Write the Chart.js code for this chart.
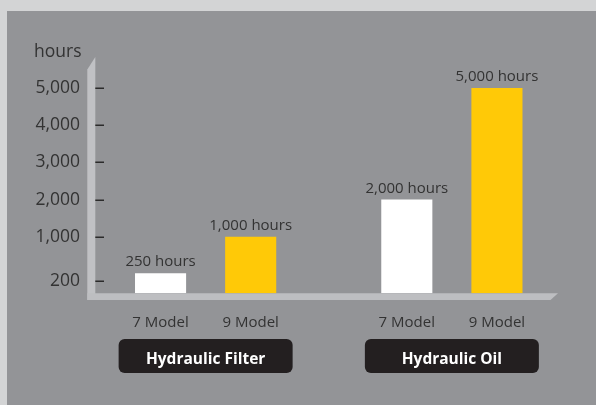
<!DOCTYPE html>
<html>
<head>
<meta charset="utf-8">
<script src="https://cdn.jsdelivr.net/npm/chart.js@4.4.1/dist/chart.umd.min.js"></script>
<style>
  html, body { margin: 0; padding: 0; background: #d3d4d5; }
  canvas { display: block; }
</style>
</head>
<body>
<canvas id="c" width="596" height="405"></canvas>
<script>
// ---- data ----
const categories = ['Hydraulic Filter', 'Hydraulic Oil'];
const seriesNames = ['7 Model', '9 Model'];
const model7Hours = [250, 2000];
const model9Hours = [1000, 5000];
const yTickValues = [200, 1000, 2000, 3000, 4000, 5000];
const yAxisTitle = 'hours';
const valueSuffix = ' hours';

// ---- styles ----
const FONT = '"Open Sans", "Noto Sans", sans-serif';
const TEXT = '#333333';
const WHITE_BAR = '#ffffff';
const YELLOW_BAR = '#ffc907';
const AXIS_FACE = '#c0c1c4';

// Broken (piecewise-linear) value axis, like the original artwork
const knotValues = [0, 200, 250, 1000, 5000];
const knotDecimals = [0, 0.0614, 0.0974, 0.2757, 1];
function interp(x, xs, ys) {
  if (x <= xs[0]) return ys[0] + (x - xs[0]) * (ys[1] - ys[0]) / (xs[1] - xs[0]);
  for (let i = 1; i < xs.length; i++) {
    if (x <= xs[i]) return ys[i - 1] + (x - xs[i - 1]) * (ys[i] - ys[i - 1]) / (xs[i] - xs[i - 1]);
  }
  const n = xs.length - 1;
  return ys[n] + (x - xs[n]) * (ys[n] - ys[n - 1]) / (xs[n] - xs[n - 1]);
}
class BrokenLinearScale extends Chart.LinearScale {
  getPixelForValue(value) {
    return this.getPixelForDecimal(interp(value, knotValues, knotDecimals));
  }
  getValueForPixel(pixel) {
    return interp(this.getDecimalForPixel(pixel), knotDecimals, knotValues);
  }
}
BrokenLinearScale.id = 'brokenLinear';
BrokenLinearScale.defaults = Chart.LinearScale.defaults;
Chart.register(BrokenLinearScale);

const fmt = v => String(Math.round(v)).replace(/\B(?=(\d{3})+(?!\d))/g, ',');

const decor = {
  id: 'decor',
  beforeDraw(chart) {
    const ctx = chart.ctx;
    ctx.save();
    ctx.fillStyle = '#d3d4d5';
    ctx.fillRect(0, 0, chart.width, chart.height);
    ctx.fillStyle = '#939497';
    ctx.fillRect(7, 11, chart.width - 7, chart.height - 11);
    ctx.restore();
  },
  beforeDatasetsDraw(chart) {
    const ctx = chart.ctx;
    const a = chart.chartArea;
    const y = chart.scales.y;
    const axL = a.left + 4.8, axR = a.left + 12.8;
    const floorTop = a.bottom, floorBot = a.bottom + 6.7;
    ctx.save();
    ctx.fillStyle = AXIS_FACE;
    // vertical axis slab
    ctx.beginPath();
    ctx.moveTo(axL, floorBot);
    ctx.lineTo(axL, a.top - 18.5);
    ctx.lineTo(axR, a.top - 31);
    ctx.lineTo(axR, floorBot);
    ctx.closePath();
    ctx.fill();
    // floor slab
    ctx.fillStyle = '#bdbec1';
    ctx.beginPath();
    ctx.moveTo(axL, floorTop);
    ctx.lineTo(a.right - 17, floorTop);
    ctx.lineTo(a.right - 24.5, floorBot);
    ctx.lineTo(axL, floorBot);
    ctx.closePath();
    ctx.fill();
    // tick dashes
    ctx.strokeStyle = '#2b2b2b';
    ctx.lineWidth = 1.5;
    y.ticks.forEach((t, i) => {
      const py = Math.round(y.getPixelForTick(i)) + 0.25;
      ctx.beginPath();
      ctx.moveTo(axR, py);
      ctx.lineTo(axR + 8.7, py);
      ctx.stroke();
    });
    ctx.restore();
  },
  afterDatasetsDraw(chart) {
    const ctx = chart.ctx;
    const x = chart.scales.x;
    ctx.save();
    // y axis title
    ctx.fillStyle = TEXT;
    ctx.font = '17.5px ' + FONT;
    ctx.textAlign = 'left';
    ctx.textBaseline = 'alphabetic';
    ctx.fillText(yAxisTitle, 34, 56.5);
    // value labels + model labels
    chart.data.datasets.forEach((ds, di) => {
      const meta = chart.getDatasetMeta(di);
      meta.data.forEach((bar, i) => {
        ctx.fillStyle = TEXT;
        ctx.font = '15px ' + FONT;
        ctx.textAlign = 'center';
        ctx.textBaseline = 'alphabetic';
        ctx.fillText(fmt(ds.data[i]) + valueSuffix, bar.x, bar.y - 7);
        ctx.fillText(ds.label, bar.x, 326.5);
      });
    });
    // group label boxes
    categories.forEach((c, i) => {
      const cx = x.getPixelForValue(i);
      const w = 174, h = 34, top = 339;
      ctx.fillStyle = '#231f20';
      ctx.beginPath();
      ctx.roundRect(cx - w / 2, top, w, h, 6);
      ctx.fill();
      ctx.fillStyle = '#ffffff';
      ctx.font = 'bold 15.5px ' + FONT;
      ctx.textAlign = 'center';
      ctx.textBaseline = 'alphabetic';
      ctx.fillText(c, cx, 364);
    });
    ctx.restore();
  }
};

new Chart(document.getElementById('c'), {
  type: 'bar',
  data: {
    labels: categories,
    datasets: [
      { label: seriesNames[0], data: model7Hours, backgroundColor: WHITE_BAR, borderWidth: 0,
        categoryPercentage: 0.732, barPercentage: 0.567 },
      { label: seriesNames[1], data: model9Hours, backgroundColor: YELLOW_BAR, borderWidth: 0,
        categoryPercentage: 0.732, barPercentage: 0.567 }
    ]
  },
  options: {
    responsive: false,
    animation: false,
    events: [],
    layout: { padding: { left: 0, right: 21, top: 88, bottom: 111.7 } },
    plugins: { legend: { display: false }, tooltip: { enabled: false }, title: { display: false } },
    scales: {
      x: {
        type: 'category',
        display: false,
        offset: true,
        grid: { display: false }
      },
      y: {
        type: 'brokenLinear',
        min: 0,
        max: 5000,
        afterBuildTicks: s => { s.ticks = yTickValues.map(v => ({ value: v })); },
        afterFit: s => { s.width = 82.5; },
        grid: { display: false, drawTicks: false },
        border: { display: false },
        ticks: {
          autoSkip: false,
          padding: 2.5,
          color: TEXT,
          font: { family: FONT, size: 17.5 },
          callback: v => fmt(v)
        }
      }
    }
  },
  plugins: [decor]
});
</script>
</body>
</html>
